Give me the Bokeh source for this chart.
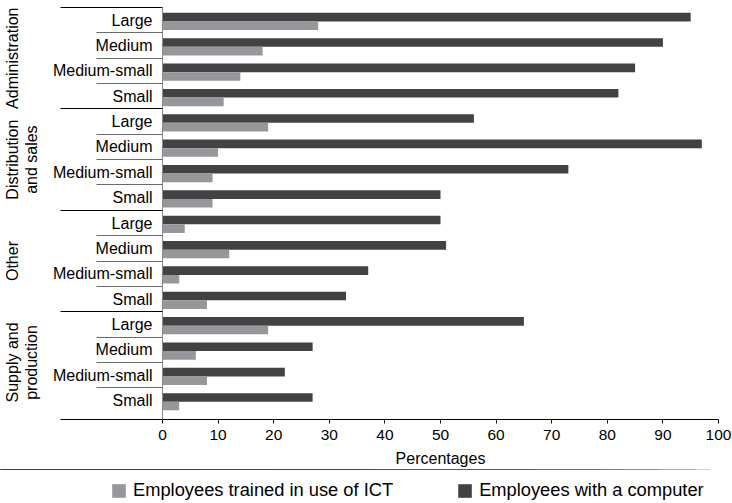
from bokeh.plotting import figure
from bokeh.layouts import column
from bokeh.models import Range1d, LinearAxis, FixedTicker, Legend, LegendItem, ColumnDataSource
from bokeh.embed import file_html
from bokeh.resources import INLINE

# ---- data ----
groups = ["Administration", "Distribution and sales", "Other", "Supply and production"]
group_display = ["Administration\n ", "Distribution\nand sales", "Other\n ", "Supply and\nproduction"]
sizes = ["Large", "Medium", "Medium-small", "Small"]
ict_trained = [28, 18, 14, 11, 19, 10, 9, 9, 4, 12, 3, 8, 19, 6, 8, 3]
with_computer = [95, 90, 85, 82, 56, 97, 73, 50, 50, 51, 37, 33, 65, 27, 22, 27]
x_ticks = [0, 10, 20, 30, 40, 50, 60, 70, 80, 90, 100]
series_names = ["Employees trained in use of ICT", "Employees with a computer"]

FONT = "Liberation Sans"
DARK = "#424242"
GREY = "#96979b"

rows = [(g, s) for g in groups for s in sizes]
n = len(rows)
bottom = n + 0.25

src = ColumnDataSource(dict(
    group=[r[0] for r in rows],
    size=[r[1] for r in rows],
    ict=ict_trained,
    comp=with_computer,
    y_comp=[i + 0.38 for i in range(n)],
    y_ict=[i + 0.72 for i in range(n)],
))

p = figure(width=732, height=469, x_range=Range1d(0, 100), y_range=Range1d(bottom, 0),
           output_backend="svg", toolbar_location=None, y_axis_location=None,
           min_border_left=162, min_border_right=14, min_border_top=7, min_border_bottom=50)
p.grid.visible = False
p.outline_line_color = None
p.background_fill_color = "white"

r_comp = p.hbar(y="y_comp", left=0, right="comp", height=0.34, source=src,
                fill_color=DARK, line_color=None)
r_ict = p.hbar(y="y_ict", left=0, right="ict", height=0.34, source=src,
               fill_color=GREY, line_color=None)

# x axis
xa = p.xaxis[0]
xa.ticker = FixedTicker(ticks=x_ticks)
xa.axis_line_color = "black"
xa.major_tick_line_color = "black"
xa.major_tick_out = 4
xa.major_tick_in = 0
xa.minor_tick_line_color = None
xa.major_label_standoff = 6
xa.major_label_text_font = FONT
xa.major_label_text_font_size = "15.5px"
xa.major_label_text_color = "black"
xa.axis_label = "Percentages"
xa.axis_label_text_font = FONT
xa.axis_label_text_font_size = "16px"
xa.axis_label_text_font_style = "normal"
xa.axis_label_text_color = "black"
xa.axis_label_standoff = 7

centers = [i + 0.5 for i in range(n)]
row_bounds = [i for i in range(1, n) if i % len(sizes) != 0]
group_bounds = [len(sizes) * k for k in range(len(groups))] + [bottom]
group_centers = [len(sizes) * k + 2 for k in range(len(groups))]

# innermost left axis: separator lines only (groups long, rows short)
axA = LinearAxis(
    ticker=FixedTicker(ticks=group_bounds, minor_ticks=row_bounds),
    major_label_overrides={b: "" for b in group_bounds},
    major_tick_out=102, major_tick_in=0, major_tick_line_color="black",
    minor_tick_out=66, minor_tick_in=0, minor_tick_line_color="#6a6a6a",
    axis_line_color="#8a8a8a", major_label_standoff=0,
)
p.add_layout(axA, "left")

# size labels, drawn back over the separator area
axB = LinearAxis(
    ticker=FixedTicker(ticks=centers),
    major_label_overrides={c: r[1] for c, r in zip(centers, rows)},
    major_tick_line_color=None, major_tick_out=0, major_tick_in=0,
    minor_tick_line_color=None, minor_tick_out=0, minor_tick_in=0,
    axis_line_color=None, major_label_standoff=-92,
    major_label_text_font=FONT, major_label_text_font_size="16px",
    major_label_text_color="black",
)
p.add_layout(axB, "left")

# group labels
axC = LinearAxis(
    ticker=FixedTicker(ticks=group_centers),
    major_label_overrides={c: t for c, t in zip(group_centers, group_display)},
    major_label_orientation="vertical",
    major_tick_line_color=None, major_tick_out=0, major_tick_in=0,
    minor_tick_line_color=None, minor_tick_out=0, minor_tick_in=0,
    axis_line_color=None, major_label_standoff=9,
    major_label_text_font=FONT, major_label_text_font_size="16px",
    major_label_text_line_height=1.15,
    major_label_text_color="black",
)
p.add_layout(axC, "left")

# legend strip below the chart; its key renderers have zero-height bars kept out of view
lf = figure(width=732, height=34, x_range=Range1d(0, 100), y_range=Range1d(-50, -40),
            output_backend="svg", toolbar_location=None,
            x_axis_location=None, y_axis_location=None,
            min_border_left=0, min_border_right=0, min_border_top=0, min_border_bottom=0)
if "frame_align" in lf.properties():
    lf.frame_align = False
lf.grid.visible = False
lf.outline_line_color = None
lf.background_fill_color = None
lf.border_fill_color = None
key_ict = lf.hbar(y="y_ict", left=0, right="ict", height=0, source=src,
                  fill_color=GREY, line_color=None)
key_comp = lf.hbar(y="y_comp", left=0, right="comp", height=0, source=src,
                   fill_color=DARK, line_color=None)
legend = Legend(items=[LegendItem(label=series_names[0], renderers=[key_ict]),
                       LegendItem(label=series_names[1], renderers=[key_comp])],
                orientation="horizontal", location=(110, 2),
                glyph_width=17, glyph_height=17, label_standoff=6, spacing=63,
                padding=0, margin=0, border_line_color=None, background_fill_alpha=0,
                label_text_font=FONT, label_text_font_size="18.3px", label_text_color="black")
lf.add_layout(legend, "center")

layout = column(p, lf, spacing=0)
open("out.html", "w").write(file_html(layout, INLINE))
